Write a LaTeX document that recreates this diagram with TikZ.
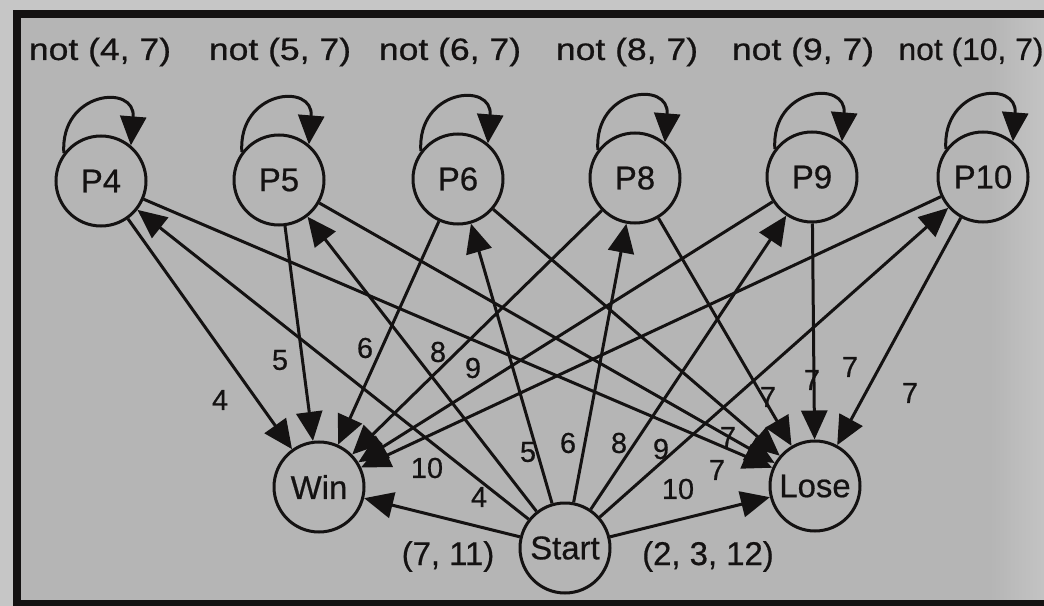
\documentclass[tikz,border=0pt]{standalone}
\usepackage{graphicx}
\usepackage{fontspec}
\setmainfont{Liberation Sans}[FakeBold=0.6]
\usetikzlibrary{arrows.meta}

\definecolor{paper}{RGB}{181,181,181}
\definecolor{surround}{RGB}{198,198,198}
\definecolor{ink}{RGB}{20,18,18}

% horizontally widened text for the loop conditions
\newcommand{\widelabel}[2]{\scalebox{#1}[1]{#2}}

\begin{document}
\begin{tikzpicture}[x=1bp, y=-1bp,
  state/.style={circle, draw=ink, line width=3bp, minimum size=90bp,
    inner sep=0pt, font=\fontsize{33}{36}\selectfont, text=ink},
  arr/.style={draw=ink, line width=3bp,
    -{Triangle[length=29bp, width=26bp]}},
  num/.style={font=\fontsize{29}{32}\selectfont, text=ink, inner sep=0pt},
  cond/.style={font=\fontsize{31}{34}\selectfont, text=ink, inner sep=0pt, anchor=base},
  outcome/.style={font=\fontsize{33}{36}\selectfont, text=ink, inner sep=0pt, anchor=base},
]
\useasboundingbox (0,0) rectangle (1044,606);
\clip (0,0) rectangle (1044,606);

% board and frame
\fill[surround] (0,0) rectangle (1044,606);
\fill[paper] (17,14) rectangle (1044,604);
\shade[left color=paper, right color=surround!85!paper] (990,18) rectangle (1044,600);
\draw[ink, line width=8bp] (1070,14) -- (17,14) -- (17,604) -- (1070,604);

% states
\node[state] (P4)  at (101,181) {P4};
\node[state] (P5)  at (279,180) {P5};
\node[state] (P6)  at (458,179) {P6};
\node[state] (P8)  at (635,178) {P8};
\node[state] (P9)  at (812,177) {P9};
\node[state] (P10) at (983,177) {P10};
\node[state] (Win)   at (319,487) {Win};
\node[state] (Lose)  at (815,486) {Lose};
\node[state] (Start) at (565,548) {Start};

% self loops of the point states
\foreach \p in {P4,P5,P6,P8,P9,P10}
  \draw[arr] (\p.143) .. controls +(-4,-62) and +(5,-62) .. (\p.50);

% point states to the outcomes
\foreach \p in {P4,P5,P6,P8,P9,P10} {
  \draw[arr] (\p) -- (Win);
  \draw[arr] (\p) -- (Lose);
}

% first roll
\foreach \p in {P4,P5,P6,P8,P9,P10}
  \draw[arr] (Start) -- (\p);
\draw[arr] (Start) -- (Win);
\draw[arr] (Start) -- (Lose);

% loop conditions
\node[cond] (c4)  at (100,60) {\widelabel{1.15}{not (4, 7)}};
\node[cond] (c5)  at (280,60) {\widelabel{1.15}{not (5, 7)}};
\node[cond] (c6)  at (450,60) {\widelabel{1.15}{not (6, 7)}};
\node[cond] (c8)  at (627,60) {\widelabel{1.15}{not (8, 7)}};
\node[cond] (c9)  at (803,60) {\widelabel{1.15}{not (9, 7)}};
\node[cond] (c10) at (971,60) {\widelabel{1.03}{not (10, 7)}};

% rolls that win from a point
\node[num] (w4)  at (220,400) {4};
\node[num] (w5)  at (280,360) {5};
\node[num] (w6)  at (365,348) {6};
\node[num] (w8)  at (438,352) {8};
\node[num] (w9)  at (473,368) {9};
\node[num] (w10) at (427,468) {10};

% rolls that set the point
\node[num] (s4)  at (479,497) {4};
\node[num] (s5)  at (528,452) {5};
\node[num] (s6)  at (568,443) {6};
\node[num] (s8)  at (619,443) {8};
\node[num] (s9)  at (661,449) {9};
\node[num] (s10) at (678,489) {10};

% sevens that lose
\node[num] (l1) at (768,397) {7};
\node[num] (l2) at (812,380) {7};
\node[num] (l3) at (850,367) {7};
\node[num] (l4) at (910,393) {7};
\node[num] (l5) at (728,437) {7};
\node[num] (l6) at (717,470) {7};

% naturals and craps
\node[outcome] (nat)   at (448,565) {(7, 11)};
\node[outcome] (craps) at (708,565) {(2, 3, 12)};
\end{tikzpicture}
\end{document}
